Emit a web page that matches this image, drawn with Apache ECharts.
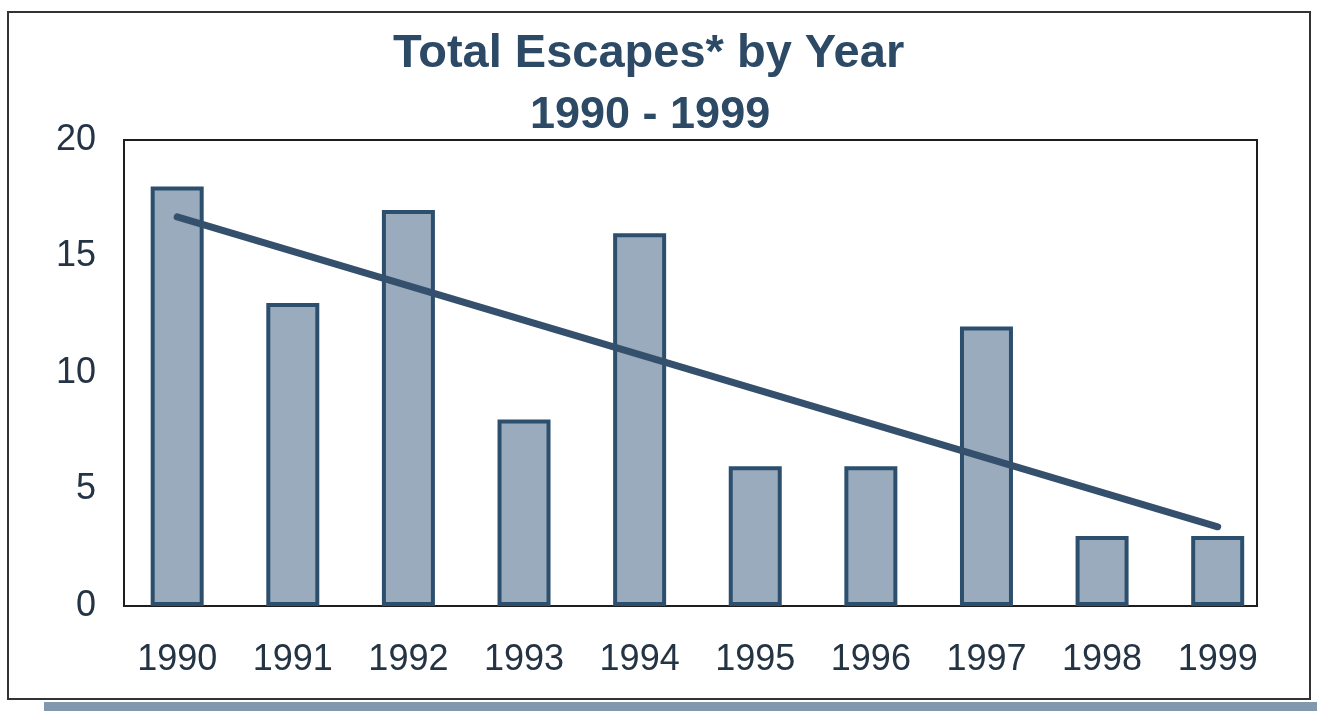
<!DOCTYPE html>
<html>
<head>
<meta charset="utf-8">
<script src="https://cdn.jsdelivr.net/npm/echarts@6/dist/echarts.min.js"></script>
<style>
html,body{margin:0;padding:0;background:#ffffff;}
#chart{width:1317px;height:711px;}
</style>
</head>
<body>
<div id="chart"></div>
<script>
var years = ['1990','1991','1992','1993','1994','1995','1996','1997','1998','1999'];
var escapes = [18, 13, 17, 8, 16, 6, 6, 12, 3, 3];
var trendStart = 16.7;   // trend line value read at 1990
var trendEnd = 3.4;      // trend line value read at 1999
var yTicks = [0, 5, 10, 15, 20];

var barData = escapes.map(function (v, i) { return [i, v]; });
var trendData = [[0, trendStart], [years.length - 1, trendEnd]];
var idx = years.map(function (y, i) { return i; });

var chart = echarts.init(document.getElementById('chart'));
chart.setOption({
  backgroundColor: '#ffffff',
  animation: false,
  title: [
    {
      text: 'Total Escapes* by Year',
      left: 388, top: 26,
      textStyle: { fontFamily: 'Liberation Sans, Arial, sans-serif', fontSize: 47, fontWeight: 'bold', color: '#2c4965' }
    },
    {
      text: '1990 - 1999',
      left: 525, top: 88,
      textStyle: { fontFamily: 'Liberation Sans, Arial, sans-serif', fontSize: 45, fontWeight: 'bold', color: '#2c4965' }
    }
  ],
  graphic: [
    { type: 'rect', shape: { x: 8, y: 12, width: 1302, height: 687 }, style: { fill: 'none', stroke: '#333', lineWidth: 2 }, z: -1 },
    { type: 'rect', shape: { x: 44, y: 702, width: 1273, height: 9 }, style: { fill: '#8298ae' }, z: -1 }
  ],
  grid: { left: 124, right: 60, top: 140, bottom: 105, show: true, borderColor: '#1e1e1e', borderWidth: 2 },
  xAxis: {
    type: 'value',
    min: -0.46, max: 9.34,
    axisLine: { show: true, onZero: false, lineStyle: { color: '#1e1e1e', width: 2 } },
    axisTick: { show: false },
    splitLine: { show: false },
    axisLabel: {
      customValues: idx,
      formatter: function (v) { return years[Math.round(v)]; },
      margin: 36,
      fontFamily: 'Liberation Sans, Arial, sans-serif', fontSize: 36, color: '#243444'
    }
  },
  yAxis: {
    type: 'value',
    min: 0, max: 20, interval: 5,
    axisLine: { show: true, onZero: false, lineStyle: { color: '#1e1e1e', width: 2 } },
    axisTick: { show: false },
    splitLine: { show: false },
    axisLabel: {
      margin: 28,
      fontFamily: 'Liberation Sans, Arial, sans-serif', fontSize: 36, color: '#243444'
    }
  },
  series: [
    {
      type: 'bar',
      data: barData,
      barWidth: 53,
      itemStyle: { color: '#9aabbd', borderColor: '#2d4f6e', borderWidth: 4 },
      z: 2
    },
    {
      type: 'line',
      data: trendData,
      symbol: 'none',
      lineStyle: { color: '#34506c', width: 7, cap: 'round' },
      z: 3
    }
  ]
});
</script>
</body>
</html>
